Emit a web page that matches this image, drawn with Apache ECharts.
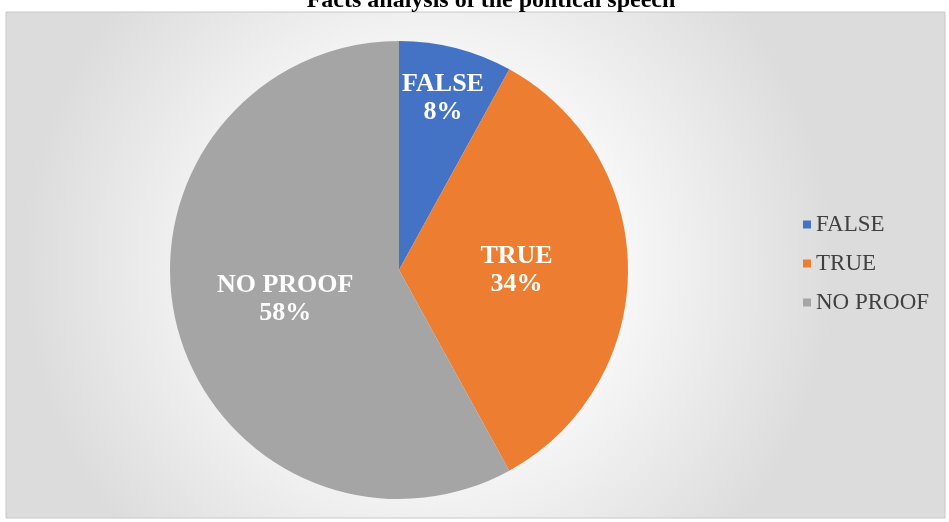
<!DOCTYPE html>
<html><head><meta charset="utf-8">
<script src="https://cdn.jsdelivr.net/npm/echarts@6/dist/echarts.min.js"></script>
<style>html,body{margin:0;padding:0;background:#fff}#c{width:949px;height:522px}</style>
</head><body><div id="c"></div>
<script>
const titleText = 'Facts analysis of the political speech';
const categories = ['FALSE', 'TRUE', 'NO PROOF'];
const values = [8, 34, 58];
const colors = ['#4472C4', '#ED7D31', '#A5A5A5'];

const chart = echarts.init(document.getElementById('c'));
const serif = '"Liberation Serif","Times New Roman",serif';
const labelStyle = {
  fontFamily: serif, fontWeight: 'bold', fontSize: 26, color: '#fff', lineHeight: 28
};
chart.setOption({
  animation: false,
  title: {
    text: titleText, left: 486, textAlign: 'center', top: -16,
    textStyle: {fontFamily: serif, fontWeight: 'bold', fontSize: 24, color: '#000'}
  },
  graphic: [{
    type: 'rect', z: -10, silent: true,
    shape: {x: 6, y: 12, width: 939, height: 506},
    style: {
      fill: new echarts.graphic.RadialGradient(0.45, 0.5, 0.8, [
        {offset: 0, color: '#ffffff'}, {offset: 0.5, color: '#f6f6f6'}, {offset: 1, color: '#dcdcdc'}
      ]),
      stroke: '#c8c8c8', lineWidth: 1
    }
  }],
  legend: {
    orient: 'vertical', left: 798, top: 208, itemWidth: 8, itemHeight: 8, itemGap: 16,
    icon: 'rect',
    textStyle: {fontFamily: serif, fontSize: 23, color: '#404040', padding: [0, 0, 0, 0]},
    data: categories
  },
  series: [{
    type: 'pie', center: [399, 270], radius: [0, 229], startAngle: 90, clockwise: true,
    label: Object.assign({show: true, position: 'inside', formatter: '{b}\n{d}%'}, labelStyle),
    labelLine: {show: false},
    itemStyle: {borderWidth: 0},
    emphasis: {disabled: true},
    data: categories.map((c, i) => ({
      name: c, value: values[i], itemStyle: {color: colors[i]},
      label: {show: i !== 0}
    }))
  }, {
    // invisible helper ring that places the small slice's label further out
    type: 'pie', center: [399, 270], radius: [0, 348], startAngle: 90, clockwise: true,
    silent: true, legendHoverLink: false, z: 5,
    label: Object.assign({show: true, position: 'inside', formatter: '{b}\n{d}%'}, labelStyle),
    labelLine: {show: false},
    itemStyle: {color: 'rgba(0,0,0,0)', borderWidth: 0},
    emphasis: {disabled: true},
    data: categories.map((c, i) => ({
      name: c, value: values[i], label: {show: i === 0}
    }))
  }]
});
</script></body></html>
